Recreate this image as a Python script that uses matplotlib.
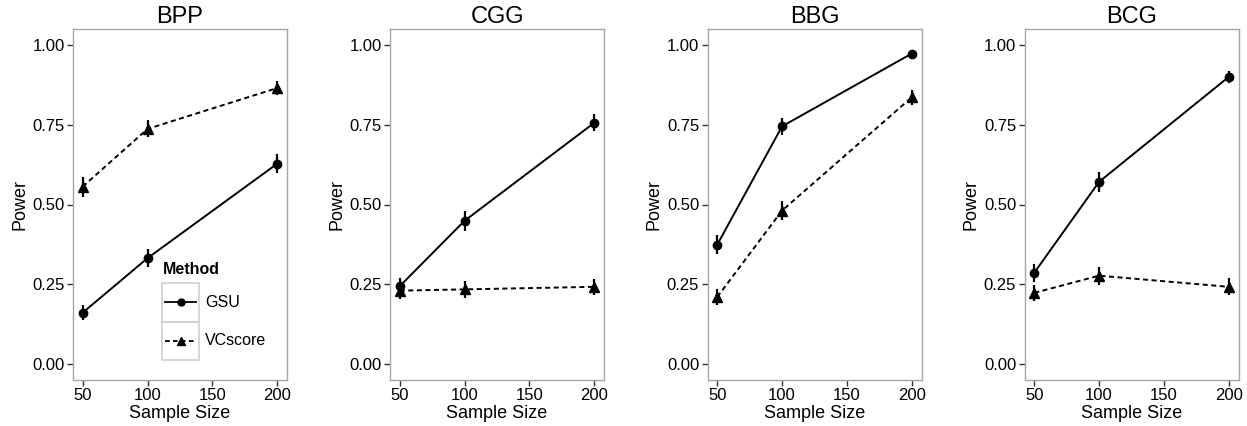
import matplotlib
matplotlib.use('Agg')
import matplotlib.pyplot as plt
from matplotlib.patches import Rectangle
from matplotlib.lines import Line2D

plt.rcParams['font.family'] = ['Liberation Sans', 'DejaVu Sans']

# data
sizes = [50, 100, 200]
panels = ['BPP', 'CGG', 'BBG', 'BCG']

gsu = {
    'BPP': [0.161, 0.332, 0.628],
    'CGG': [0.244, 0.449, 0.756],
    'BBG': [0.374, 0.745, 0.973],
    'BCG': [0.286, 0.571, 0.900],
}
gsu_err = {
    'BPP': [0.023, 0.029, 0.030],
    'CGG': [0.027, 0.031, 0.027],
    'BBG': [0.030, 0.027, 0.010],
    'BCG': [0.028, 0.031, 0.019],
}
vcs = {
    'BPP': [0.556, 0.737, 0.865],
    'CGG': [0.230, 0.234, 0.242],
    'BBG': [0.210, 0.481, 0.836],
    'BCG': [0.223, 0.277, 0.242],
}
vcs_err = {
    'BPP': [0.031, 0.027, 0.021],
    'CGG': [0.026, 0.026, 0.026],
    'BBG': [0.025, 0.031, 0.023],
    'BCG': [0.026, 0.028, 0.027],
}

W, H = 1247, 426
fig = plt.figure(figsize=(W / 100, H / 100), dpi=100)


def px(x, y):
    # pixel position -> figure fraction
    return x / W, 1 - y / H


dash = (0, (2.6, 1.8))
lefts = [73, 390, 707.5, 1024.5]
for name, left in zip(panels, lefts):
    ax = fig.add_axes([left / W, 46 / H, 214 / W, 351 / H])
    ax.errorbar(sizes, gsu[name], yerr=gsu_err[name], color='black', lw=1.4,
                elinewidth=1.6, capsize=0, marker='o', ms=6)
    ax.errorbar(sizes, vcs[name], yerr=vcs_err[name], color='black', lw=1.4,
                ls=dash, elinewidth=1.6, capsize=0, marker='^', ms=6.5)
    ax.set_xlim(42.5, 207.5)
    ax.set_ylim(-0.05, 1.05)
    ax.set_xticks([50, 100, 150, 200])
    ax.set_yticks([0, 0.25, 0.5, 0.75, 1.0])
    ax.set_yticklabels(['0.00', '0.25', '0.50', '0.75', '1.00'])
    ax.tick_params(length=4, width=1, color='#333333', pad=2, labelsize=12)
    for sp in ax.spines.values():
        sp.set_color('#a6a6a6')
        sp.set_linewidth(1)
    ax.set_title(name, fontsize=17, pad=4)
    ax.set_xlabel('Sample Size', fontsize=13, labelpad=1.5)
    ax.set_ylabel('Power', fontsize=13, labelpad=3)

# legend drawn inside the first panel
tx, ty = px(163, 269)
fig.text(tx, ty, 'Method', fontsize=11.5, fontweight='bold', va='center', ha='left')
for i, (lab, mk, ls) in enumerate([('GSU', 'o', '-'), ('VCscore', '^', dash)]):
    top = 283 + i * 38.5
    x0, y0 = px(162, top + 38.5)
    fig.add_artist(Rectangle((x0, y0), 37 / W, 38.5 / H, transform=fig.transFigure,
                             fill=False, edgecolor='#d0d0d0', lw=1.2))
    xa, ym = px(165, top + 19.25)
    xb, _ = px(196, top + 19.25)
    fig.add_artist(Line2D([xa, xb], [ym, ym], transform=fig.transFigure,
                          color='black', lw=1.3, ls=ls))
    fig.add_artist(Line2D([(xa + xb) / 2], [ym], transform=fig.transFigure,
                          color='black', marker=mk, ms=5 if mk == 'o' else 6, ls='none'))
    lx, _ = px(205, 0)
    fig.text(lx, ym, lab, fontsize=11.5, va='center', ha='left')

fig.savefig('out.png', dpi=100)
